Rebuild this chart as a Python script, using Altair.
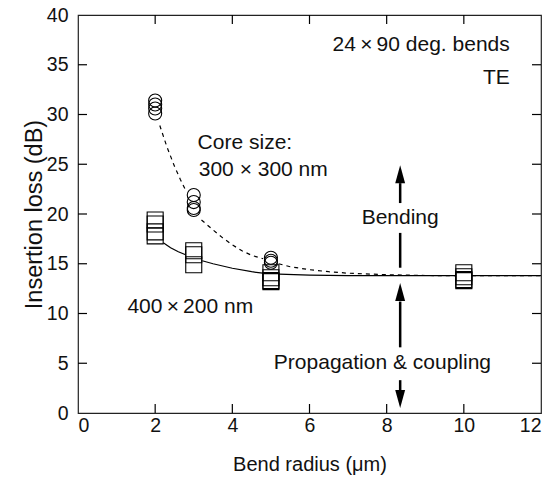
import altair as alt
import pandas as pd

# ---------------- data ----------------
x_ticks = [0, 2, 4, 6, 8, 10, 12]
y_ticks = [0, 5, 10, 15, 20, 25, 30, 35, 40]

# 400 x 200 nm devices (open squares)
sq_x = [2, 2, 2, 2, 3, 3, 3, 5, 5, 5, 5, 10, 10, 10, 10]
sq_y = [19.4, 19.0, 18.2, 17.8, 16.3, 15.9, 14.9, 14.1, 13.6, 13.3, 13.2, 14.1, 13.7, 13.4, 13.3]

# 300 x 300 nm devices (open circles)
ci_x = [2, 2, 2, 2, 3, 3, 3, 3, 5, 5, 5]
ci_y = [31.4, 31.0, 30.6, 30.1, 21.9, 21.2, 20.6, 20.4, 15.6, 15.3, 15.1]

# solid guide curve (400x200), broken at markers
solid_x = [2.21, 2.4, 2.6, 2.79, 3.22, 3.5, 4.0, 4.5, 4.79, 5.21, 6.0, 7.0, 8.0, 9.79, 10.21, 12.0]
solid_y = [17.1, 16.6, 16.2, 15.9, 15.3, 15.0, 14.55, 14.2, 14.05, 13.95, 13.85, 13.8, 13.8, 13.8, 13.8, 13.8]
solid_seg = [1, 1, 1, 1, 2, 2, 2, 2, 2, 3, 3, 3, 3, 3, 4, 4]

# dashed guide curve (300x300), broken at markers
dash_x = [2.12, 2.3, 2.5, 2.65, 2.8, 3.2, 3.5, 3.75, 4.0, 4.25, 4.5, 4.8,
          5.2, 5.5, 6.0, 6.5, 7.0, 8.0, 9.0, 9.79, 10.21, 12.0]
dash_y = [28.9, 26.8, 24.8, 23.5, 22.3, 19.4, 18.4, 17.6, 16.9, 16.3, 15.85, 15.5,
          15.0, 14.7, 14.4, 14.2, 14.05, 13.9, 13.82, 13.8, 13.8, 13.8]
dash_seg = [1, 1, 1, 1, 1, 2, 2, 2, 2, 2, 2, 2, 3, 3, 3, 3, 3, 3, 3, 3, 4, 4]

# arrows (shafts and heads)
arrow_x = 8.35
shaft_y1 = [14.6, 21.1, 6.6, 2.3]
shaft_y2 = [18.1, 23.1, 11.2, 3.3]
head_y = [24.0, 12.15, 1.4]
head_dir = ["up", "up", "down"]

# annotations
txt_left = ["Core size:", "300 × 300 nm", "400\u2009×\u2009200 nm"]
txt_left_x = [3.1, 3.13, 1.28]
txt_left_y = [27.1, 24.4, 10.65]
txt_center = ["Bending", "Propagation & coupling"]
txt_center_x = [8.35, 7.89]
txt_center_y = [19.6, 5.0]
txt_right = ["24\u2009×\u200990 deg. bends", "TE"]
txt_right_x = [11.19, 11.19]
txt_right_y = [37.0, 33.7]

# ---------------- chart ----------------
W, H = 463, 398
TL = 9  # inward tick length (px)
FONT = "Liberation Sans"
X_DOM = [0, 12]
Y_DOM = [0, 40]
XS = alt.Scale(domain=X_DOM, nice=False, zero=False)
YS = alt.Scale(domain=Y_DOM, nice=False, zero=False)

sq_df = pd.DataFrame({"x": sq_x, "y": sq_y})
ci_df = pd.DataFrame({"x": ci_x, "y": ci_y})
solid_df = pd.DataFrame({"x": solid_x, "y": solid_y, "seg": solid_seg})
dash_df = pd.DataFrame({"x": dash_x, "y": dash_y, "seg": dash_seg})
shaft_df = pd.DataFrame({"x": [arrow_x] * len(shaft_y1), "y": shaft_y1, "y2": shaft_y2})
up_path = "M0,-1L0.55,1L-0.55,1Z"
down_path = "M0,1L0.55,-1L-0.55,-1Z"
head_df = pd.DataFrame({"x": [arrow_x] * len(head_y), "y": head_y,
                        "shape": [up_path if d == "up" else down_path for d in head_dir]})

xt_inner = [float(v) for v in x_ticks[1:-1]]
yt_inner = [float(v) for v in y_ticks[1:-1]]

x_main = alt.Axis(values=x_ticks, title="Bend radius (μm)", labels=True, ticks=False,
                  tickSize=0, domain=False, grid=False, labelPadding=3,
                  labelFontSize=19.5, titleFontSize=20, titlePadding=20,
                  labelColor="#111", titleColor="#111", format="d")
y_main = alt.Axis(values=y_ticks, title="Insertion loss (dB)", labels=True, ticks=False,
                  tickSize=0, domain=False, grid=False, labelPadding=10,
                  labelFontSize=19.5, titleFontSize=23.5, titlePadding=0,
                  labelColor="#111", titleColor="#111", format="d")

solid = alt.Chart(solid_df).mark_line(color="black", strokeWidth=1.2).encode(
    x=alt.X("x:Q", scale=XS, axis=x_main),
    y=alt.Y("y:Q", scale=YS, axis=y_main),
    detail="seg:N",
)
dashed = alt.Chart(dash_df).mark_line(color="black", strokeWidth=1.2, strokeDash=[4, 4]).encode(
    x=alt.X("x:Q", scale=XS, axis=None),
    y=alt.Y("y:Q", scale=YS, axis=None),
    detail="seg:N",
)
squares = alt.Chart(sq_df).mark_point(shape="square", size=256, filled=False,
                                       color="black", strokeWidth=1.1, opacity=1).encode(
    x=alt.X("x:Q", scale=XS, axis=None),
    y=alt.Y("y:Q", scale=YS, axis=None),
)
circles = alt.Chart(ci_df).mark_point(shape="circle", size=170, filled=False,
                                       color="black", strokeWidth=1.1, opacity=1).encode(
    x=alt.X("x:Q", scale=XS, axis=None),
    y=alt.Y("y:Q", scale=YS, axis=None),
)
shafts = alt.Chart(shaft_df).mark_rule(color="black", strokeWidth=2.5).encode(
    x=alt.X("x:Q", scale=XS, axis=None),
    y=alt.Y("y:Q", scale=YS, axis=None),
    y2="y2:Q",
)
heads = alt.Chart(head_df).mark_point(filled=True, color="black", size=324, opacity=1).encode(
    x=alt.X("x:Q", scale=XS, axis=None),
    y=alt.Y("y:Q", scale=YS, axis=None),
    shape=alt.Shape("shape:N", scale=None),
)

# inward ticks on the four edges, drawn as tick marks
def edge_ticks(df, orient, xoff, yoff):
    return alt.Chart(df).mark_tick(color="black", orient=orient, size=TL, thickness=1.2,
                                   opacity=1, xOffset=xoff, yOffset=yoff).encode(
        x=alt.X("x:Q", scale=XS, axis=None),
        y=alt.Y("y:Q", scale=YS, axis=None),
    )

t_bottom = edge_ticks(pd.DataFrame({"x": xt_inner, "y": [float(Y_DOM[0])] * len(xt_inner)}),
                      "vertical", 0, -TL / 2)
t_top = edge_ticks(pd.DataFrame({"x": xt_inner, "y": [float(Y_DOM[1])] * len(xt_inner)}),
                   "vertical", 0, TL / 2)
t_left = edge_ticks(pd.DataFrame({"x": [float(X_DOM[0])] * len(yt_inner), "y": yt_inner}),
                    "horizontal", TL / 2, 0)
t_right = edge_ticks(pd.DataFrame({"x": [float(X_DOM[1])] * len(yt_inner), "y": yt_inner}),
                     "horizontal", -TL / 2, 0)

def text_layer(texts, xs, ys, align):
    df = pd.DataFrame({"x": xs, "y": ys, "t": texts})
    return alt.Chart(df).mark_text(align=align, baseline="middle", fontSize=21,
                                   font=FONT, color="#111").encode(
        x=alt.X("x:Q", scale=XS, axis=None),
        y=alt.Y("y:Q", scale=YS, axis=None),
        text="t:N",
    )

chart = alt.layer(
    solid, dashed, squares, circles, shafts, heads,
    t_bottom, t_top, t_left, t_right,
    text_layer(txt_left, txt_left_x, txt_left_y, "left"),
    text_layer(txt_center, txt_center_x, txt_center_y, "center"),
    text_layer(txt_right, txt_right_x, txt_right_y, "right"),
).resolve_axis(x="independent", y="independent").properties(
    width=W, height=H,
    padding={"left": 78, "top": 15, "right": 15, "bottom": 69},
    autosize=alt.AutoSizeParams(type="none"),
    background="white",
).configure_view(stroke="#222", strokeWidth=1.2).configure_axis(
    labelFont=FONT, titleFont=FONT, titleFontWeight="normal"
)

chart.save("out.html", embed_options={"renderer": "svg", "actions": False})
